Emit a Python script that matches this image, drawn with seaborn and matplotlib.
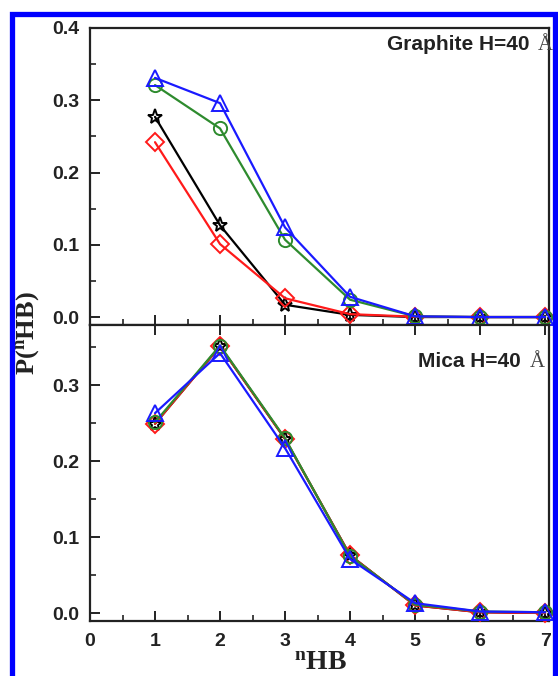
import matplotlib
matplotlib.use("Agg")
import matplotlib.pyplot as plt
import seaborn as sns
import numpy as np
from matplotlib.patches import Rectangle
from matplotlib.ticker import MultipleLocator

sns.set_style("white")
plt.rcParams['font.family'] = ['Liberation Sans', 'DejaVu Sans']
plt.rcParams['mathtext.fontset'] = 'custom'
plt.rcParams['mathtext.rm'] = 'Liberation Serif'
plt.rcParams['mathtext.bf'] = 'Liberation Serif:bold'

# ---- data ----
n_hb = [1, 2, 3, 4, 5, 6, 7]

graphite_black = [0.277, 0.127, 0.017, 0.003, 0.0, 0.0, 0.0]
graphite_red = [0.242, 0.101, 0.026, 0.004, 0.0005, 0.0, 0.0]
graphite_green = [0.321, 0.261, 0.107, 0.024, 0.001, 0.0, 0.0]
graphite_blue = [0.331, 0.296, 0.124, 0.028, 0.001, 0.0, 0.0]

mica_black = [0.249, 0.351, 0.229, 0.076, 0.010, 0.001, 0.0]
mica_red = [0.249, 0.351, 0.229, 0.076, 0.010, 0.001, 0.0]
mica_green = [0.251, 0.352, 0.230, 0.075, 0.011, 0.002, 0.001]
mica_blue = [0.263, 0.342, 0.217, 0.071, 0.013, 0.002, 0.001]

y_ticks_top = [0.0, 0.1, 0.2, 0.3, 0.4]
y_ticks_bottom = [0.0, 0.1, 0.2, 0.3]
x_ticks = [0, 1, 2, 3, 4, 5, 6, 7]

series_style = [
    ("black", "*", 11),
    ("#ff1a1a", "D", 9),
    ("#2e8b2e", "o", 9.5),
    ("#1a1aff", "^", 11),
]

W, H = 558, 676
fig = plt.figure(figsize=(W / 100, H / 100), dpi=100)

left = 90 / W
width = (549 - 90) / W
ax1 = fig.add_axes([left, 1 - 325 / H, width, (325 - 28) / H])
ax2 = fig.add_axes([left, 1 - 621 / H, width, (621 - 325) / H])


def draw(ax, datasets):
    for vals, (col, mk, ms) in zip(datasets, series_style):
        sns.lineplot(x=n_hb, y=vals, ax=ax, color=col, marker=mk,
                     markersize=ms, markerfacecolor='none',
                     markeredgecolor=col, markeredgewidth=1.4,
                     linewidth=1.6, clip_on=False, zorder=3)


draw(ax1, [graphite_black, graphite_red, graphite_green, graphite_blue])
draw(ax2, [mica_black, mica_red, mica_green, mica_blue])

for ax in (ax1, ax2):
    ax.set_xlim(0, 7.06)
    ax.xaxis.set_major_locator(MultipleLocator(1))
    ax.xaxis.set_minor_locator(MultipleLocator(0.5))
    ax.yaxis.set_minor_locator(MultipleLocator(0.05))
    for s in ax.spines.values():
        s.set_linewidth(1.6)
        s.set_color('#222222')
    ax.tick_params(axis='both', which='major', direction='in', length=7,
                   width=1.4, color='#222222', labelsize=14,
                   labelcolor='#222222', left=True, bottom=True)
    ax.tick_params(axis='both', which='minor', direction='in', length=4,
                   width=1.2, color='#222222', left=True, bottom=True)
    ax.tick_params(axis='y', which='both', right=False, pad=8)
    ax.set_xlabel('')
    ax.set_ylabel('')

ax1.set_ylim(-0.011, 0.4)
ax1.set_yticks(y_ticks_top)
ax1.set_yticklabels([f"{v:.1f}" for v in y_ticks_top], fontweight='bold')
ax1.tick_params(axis='x', which='both', top=False, labelbottom=False)

ax2.set_ylim(-0.0105, 0.379)
ax2.set_yticks(y_ticks_bottom)
ax2.set_yticklabels([f"{v:.1f}" for v in y_ticks_bottom], fontweight='bold')
ax2.set_xticks(x_ticks)
ax2.set_xticklabels([str(v) for v in x_ticks], fontweight='bold')
ax2.tick_params(axis='x', which='major', top=True, pad=9)
ax2.tick_params(axis='x', which='minor', top=False)

# panel annotations
ax1.text(0.958, 0.926, "Graphite H=40", transform=ax1.transAxes,
         ha='right', va='baseline', fontsize=15, fontweight='bold',
         color='#222222')
ax1.text(0.993, 0.926, "Å", transform=ax1.transAxes, ha='center',
         va='baseline', fontsize=15, family=['Liberation Serif'],
         color='#444444')
ax2.text(0.938, 0.858, "Mica H=40", transform=ax2.transAxes,
         ha='right', va='baseline', fontsize=15, fontweight='bold',
         color='#222222')
ax2.text(0.975, 0.858, "Å", transform=ax2.transAxes, ha='center',
         va='baseline', fontsize=15, family=['Liberation Serif'],
         color='#444444')

# axis labels
fig.text(28 / W, 1 - 333 / H, r"$\mathbf{P({}^{n}HB)}$", rotation=90,
         ha='center', va='center', fontsize=19, color='#222222')
fig.text(321 / W, 1 - 663 / H, r"$\mathbf{{}^{n}HB}$",
         ha='center', va='center', fontsize=20, color='#222222')

# blue frame
fig.patches.append(Rectangle((11.5 / W, -0.05), (555 - 11.5) / W,
                             1.05 - 14.5 / H, transform=fig.transFigure,
                             fill=False, edgecolor='#0000ff',
                             linewidth=3.8, zorder=10))

fig.savefig("out.png", dpi=100)
